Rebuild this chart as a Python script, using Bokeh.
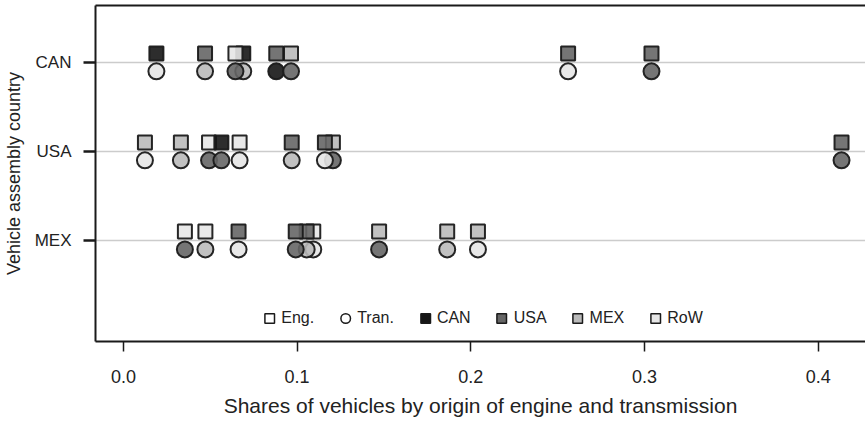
from bokeh.plotting import figure
from bokeh.models import (Range1d, FixedTicker, LinearAxis, Legend, LegendItem,
                          ColumnDataSource, PrintfTickFormatter, Grid)
from bokeh.transform import dodge
from bokeh.embed import file_html
from bokeh.resources import INLINE

# ---- data ----
countries = ["MEX", "USA", "CAN"]          # bottom -> top
origins = ["CAN", "USA", "MEX", "RoW"]
origin_colors = ["#161616", "#666666", "#bababa", "#e6e6e6"]

can_share = [0.019, 0.047, 0.069, 0.0645, 0.088, 0.0965, 0.256, 0.304]
can_engine = ["CAN", "USA", "CAN", "RoW", "USA", "MEX", "USA", "USA"]
can_trans = ["RoW", "MEX", "MEX", "USA", "CAN", "USA", "RoW", "USA"]

usa_share = [0.0124, 0.0331, 0.0493, 0.0564, 0.0669, 0.0969, 0.1206, 0.116, 0.4134]
usa_engine = ["MEX", "MEX", "RoW", "CAN", "RoW", "USA", "MEX", "USA", "USA"]
usa_trans = ["RoW", "MEX", "USA", "USA", "RoW", "MEX", "USA", "RoW", "USA"]

mex_share = [0.0354, 0.0472, 0.0663, 0.1093, 0.1055, 0.0992, 0.1472, 0.1864, 0.2041]
mex_engine = ["RoW", "RoW", "USA", "RoW", "USA", "USA", "MEX", "MEX", "MEX"]
mex_trans = ["USA", "MEX", "RoW", "RoW", "MEX", "USA", "USA", "MEX", "RoW"]

x_ticks = [0.0, 0.1, 0.2, 0.3, 0.4]

# ---- build table ----
cmap = dict(zip(origins, origin_colors))
pos = {c: i + 1 for i, c in enumerate(countries)}
rows = [("CAN", can_share, can_engine, can_trans),
        ("USA", usa_share, usa_engine, usa_trans),
        ("MEX", mex_share, mex_engine, mex_trans)]
share, ypos, eng_col, tran_col = [], [], [], []
for c, s, e, t in rows:
    share += s
    ypos += [pos[c]] * len(s)
    eng_col += [cmap[o] for o in e]
    tran_col += [cmap[o] for o in t]
src = ColumnDataSource(dict(share=share, y=ypos, eng=eng_col, tran=tran_col))

FONT = "Liberation Sans"
TXT = "#222222"
LINE = "#1a1a1a"

p = figure(width=865, height=430, output_backend="svg", toolbar_location=None,
           x_range=Range1d(-0.01606, 0.4272), y_range=Range1d(-0.135, 3.64),
           min_border_left=92, min_border_right=0, min_border_top=5,
           min_border_bottom=89, x_axis_location=None, y_axis_location=None)
p.outline_line_color = None
p.background_fill_color = "white"

# axes
xa = LinearAxis(ticker=FixedTicker(ticks=x_ticks),
                formatter=PrintfTickFormatter(format="%.1f"),
                axis_label="Shares of vehicles by origin of engine and transmission")
ya = LinearAxis(ticker=FixedTicker(ticks=[1, 2, 3]),
                axis_label="Vehicle assembly country")
ya.major_label_overrides = {pos[c]: c for c in countries}
top = LinearAxis(ticker=FixedTicker(ticks=[]))
top.major_tick_out = 0
top.major_tick_in = 0
top.minor_tick_out = 0
top.major_label_text_font_size = "0px"
top.major_label_standoff = 0
top.axis_line_color = LINE
top.axis_line_width = 2
p.add_layout(xa, "below")
p.add_layout(ya, "left")
p.add_layout(top, "above")

for ax in (xa, ya):
    ax.axis_line_color = LINE
    ax.axis_line_width = 2
    ax.major_tick_in = 0
    ax.minor_tick_out = 0
    ax.minor_tick_in = 0
    ax.major_tick_line_color = LINE
    ax.major_label_text_font = FONT
    ax.major_label_text_color = TXT
    ax.axis_label_text_font = FONT
    ax.axis_label_text_color = TXT
    ax.axis_label_text_font_style = "normal"

xa.major_tick_out = 10
xa.major_tick_line_width = 1.5
xa.major_label_standoff = 18
xa.major_label_text_font_size = "18px"
xa.axis_label_standoff = 8
xa.axis_label_text_font_size = "21px"
ya.major_tick_out = 12
ya.major_tick_line_width = 2.5
ya.major_label_standoff = 12
ya.major_label_text_font_size = "17px"
ya.axis_label_standoff = 8
ya.axis_label_text_font_size = "18px"

# grid
p.xgrid.visible = False
p.ygrid.visible = False
g = Grid(dimension=1, ticker=FixedTicker(ticks=[1, 2, 3]),
         grid_line_color="#cccccc", grid_line_width=1.5)
p.add_layout(g)

# points
p.scatter(x="share", y=dodge("y", 0.1), source=src, marker="square", size=14,
          fill_color="eng", fill_alpha=0.9, line_color=LINE, line_width=2, line_alpha=0.95)
p.scatter(x="share", y=dodge("y", -0.1), source=src, marker="circle", size=16,
          fill_color="tran", fill_alpha=0.9, line_color=LINE, line_width=2, line_alpha=0.95)

# legend (renderers whose single point is NaN, so nothing is drawn in the plot)
nan = float("nan")
items = []
r = p.scatter(x=[nan], y=[nan], marker="square", fill_color="white", line_color=LINE, line_width=1.5)
items.append(LegendItem(label="Eng.", renderers=[r]))
r = p.scatter(x=[nan], y=[nan], marker="circle", fill_color="white", line_color=LINE, line_width=1.5)
items.append(LegendItem(label="Tran.", renderers=[r]))
for o, col in zip(origins, origin_colors):
    r = p.scatter(x=[nan], y=[nan], marker="square", fill_color=col, line_color=LINE, line_width=1.5)
    items.append(LegendItem(label=o, renderers=[r]))

leg = Legend(items=items, orientation="horizontal", location="bottom_center",
             border_line_color=None, background_fill_alpha=0,
             label_text_font=FONT, label_text_font_size="16px", label_text_color=TXT,
             glyph_width=24, glyph_height=24, label_standoff=0, spacing=19,
             padding=0, margin=11)
p.add_layout(leg, "center")

open("out.html", "w").write(file_html(p, INLINE))
